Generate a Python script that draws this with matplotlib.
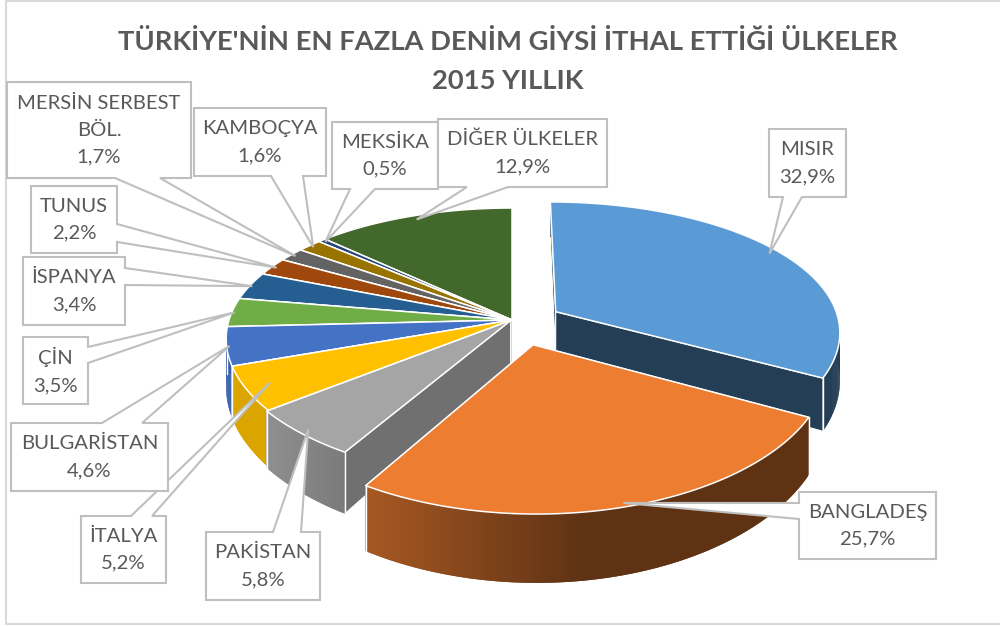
import numpy as np
import matplotlib
matplotlib.use('Agg')
import matplotlib.pyplot as plt
from matplotlib.colors import to_rgb
from matplotlib.patches import Polygon

plt.rcParams['font.family'] = ['Lato', 'DejaVu Sans']

# chart data, clockwise from the top of the pie
countries = ['MISIR', 'BANGLADEŞ', 'PAKİSTAN', 'İTALYA', 'BULGARİSTAN', 'ÇİN', 'İSPANYA',
             'TUNUS', 'MERSİN SERBEST\nBÖL.', 'KAMBOÇYA', 'MEKSİKA', 'DİĞER ÜLKELER']
shares = [32.9, 25.7, 5.8, 5.2, 4.6, 3.5, 3.4, 2.2, 1.7, 1.6, 0.5, 12.9]
title = "TÜRKİYE'NİN EN FAZLA DENİM GİYSİ İTHAL ETTİĞİ ÜLKELER\n2015 YILLIK"

# styling per slice
colors = ['#5B9BD5', '#ED7D31', '#A5A5A5', '#FFC000', '#4472C4', '#70AD47',
          '#255E91', '#9E480E', '#636363', '#997300', '#264478', '#43682B']
explode = [0.125, 0.19, 0.005, 0, 0, 0, 0, 0, 0, 0, 0, 0]
tip_radius = [0.96, 0.98, 0.97, 0.915, 0.99, 0.99, 0.99, 0.98, 0.98, 0.98, 0.98, 0.96]

# label boxes: x0, y0, x1, y1, side the tail leaves from, start and end of the tail on that side
boxes = [
    (769, 129, 846, 197, 'bottom', 783, 802),
    (799, 492, 936, 559, 'left', 503, 519),
    (206, 532, 320, 600, 'top', 273, 301),
    (81, 516, 166, 583, 'top', 131, 152),
    (11, 423, 168, 491, 'top', 102, 142),
    (23, 337, 88, 404, 'right', 347, 363),
    (23, 257, 125, 325, 'right', 268, 285),
    (31, 186, 117, 253, 'right', 224, 242),
    (7, 82, 191, 178, 'bottom', 115, 160),
    (194, 108, 326, 176, 'bottom', 271, 303),
    (332, 122, 438, 189, 'bottom', 350, 375),
    (438, 119, 607, 187, 'bottom', 467, 508),
]

# pie geometry in pixels
cx, cy = 512, 320
rx, ry = 283, 131
persp_x, persp_y = 0.14, 0.17
depth = 47
stretch = 1.45  # explosion reaches further sideways than in depth


def project(u, v, z=0.0):
    wx = 1 / (1 - persp_x * v)
    wy = 1 / (1 - persp_y * v)
    return cx + rx * u * wx, cy + ry * v * wy + depth * z * wy ** 1.7


def shade(color, f):
    return tuple(c * f for c in to_rgb(color))


def rim_shade(u):
    return float(np.clip(0.5 - 0.47 * u, 0.4, 0.86))


def offset(t, e):
    return e * stretch * np.sin(t), -e * np.cos(t)


def draw_slice(ax, color, t0, t1, e):
    tm = (t0 + t1) / 2
    ou, ov = offset(tm, e)
    thetas = np.linspace(t0, t1, max(int((t1 - t0) * 120), 4))
    us = ou + np.sin(thetas)
    vs = ov - np.cos(thetas)

    # cut faces first, then the outer rim, then the top
    for t in ((t1, t0) if tm > np.pi else (t0, t1)):
        u, v = ou + np.sin(t), ov - np.cos(t)
        face = [project(ou, ov), project(u, v), project(u, v, 1), project(ou, ov, 1)]
        fc = shade(color, 0.4 if u > 0 else 0.68)
        ax.add_patch(Polygon(face, closed=True, fc=fc, ec='white', lw=0.8, zorder=2))
    # each quad overlaps the next one so no seams show in the gradient
    for i in range(len(thetas) - 1):
        j = min(i + 2, len(thetas) - 1)
        quad = [project(us[i], vs[i]), project(us[j], vs[j]),
                project(us[j], vs[j], 1), project(us[i], vs[i], 1)]
        fc = shade(color, rim_shade((us[i] + us[i + 1]) / 2))
        ax.add_patch(Polygon(quad, closed=True, fc=fc, ec='none', lw=0, zorder=2))
    for u, v in ((us[0], vs[0]), (us[-1], vs[-1])):
        if v > 0:
            p, q = project(u, v), project(u, v, 1)
            ax.plot([p[0], q[0]], [p[1], q[1]], color='white', lw=1.0, zorder=2)

    top = [project(ou, ov)] + [project(u, v) for u, v in zip(us, vs)]
    ax.add_patch(Polygon(top, closed=True, fc=color, ec='white', lw=1.1, zorder=2))


def draw_label(ax, text, box, tip):
    x0, y0, x1, y1, side, a, b = box
    if side == 'top':
        pts = [(x0, y0), (a, y0), tip, (b, y0), (x1, y0), (x1, y1), (x0, y1)]
    elif side == 'bottom':
        pts = [(x0, y0), (x1, y0), (x1, y1), (b, y1), tip, (a, y1), (x0, y1)]
    elif side == 'left':
        pts = [(x0, y0), (x1, y0), (x1, y1), (x0, y1), (x0, b), tip, (x0, a)]
    else:
        pts = [(x0, y0), (x1, y0), (x1, a), tip, (x1, b), (x1, y1), (x0, y1)]
    ax.add_patch(Polygon(pts, closed=True, fc='white', ec='#BFBFBF', lw=1.5, zorder=3))
    ax.text((x0 + x1) / 2, (y0 + y1) / 2, text, ha='center', va='center', color='#595959',
            fontsize=14.6, linespacing=1.7, zorder=4)


fig = plt.figure(figsize=(10, 6.26), dpi=100)
ax = fig.add_axes([0, 0, 1, 1])
ax.set_xlim(0, 1000)
ax.set_ylim(626, 0)
ax.axis('off')

# chart frame
ax.plot([1000, 6, 6, 1000], [0.5, 0.5, 623.5, 623.5], color='#D9D9D9', lw=1.5, zorder=1)

ax.text(508, 61, title, ha='center', va='center', color='#595959', fontsize=19.7,
        fontweight='bold', linespacing=1.72, zorder=4)

fractions = np.array(shares) / sum(shares)
ends = np.cumsum(fractions) * 2 * np.pi
starts = ends - fractions * 2 * np.pi

# back slices first so nearer ones cover them
order = [11, 10, 9, 8, 7, 6, 5, 4, 3, 2, 0, 1]
for i in order:
    draw_slice(ax, colors[i], starts[i], ends[i], explode[i])

# labels, with tails ending near the rim of their slice
for i in range(len(countries)):
    tm = (starts[i] + ends[i]) / 2
    ou, ov = offset(tm, explode[i])
    u = ou + tip_radius[i] * np.sin(tm)
    v = ov - tip_radius[i] * np.cos(tm)
    text = countries[i] + '\n' + f'{shares[i]:.1f}'.replace('.', ',') + '%'
    draw_label(ax, text, boxes[i], project(u, v))

fig.savefig('out.png', dpi=100)
